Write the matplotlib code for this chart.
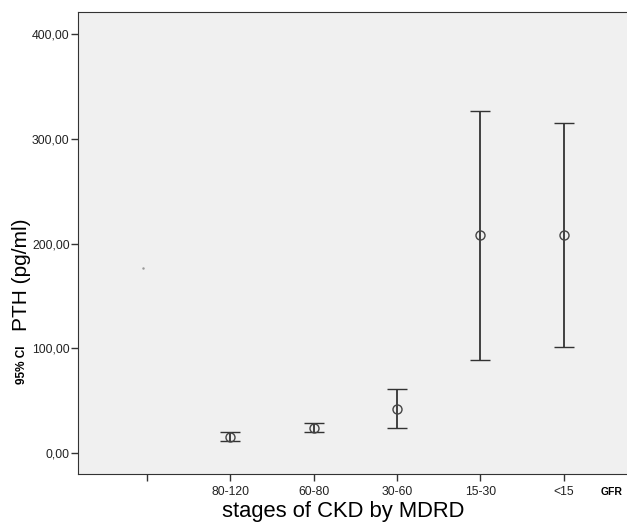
import matplotlib.pyplot as plt
import numpy as np

# stages of CKD (first category is empty in the source chart)
stages = ["", "80-120", "60-80", "30-60", "15-30", "<15"]
pth_mean = [np.nan, 15.5, 24.0, 42.0, 208.0, 208.0]
ci_low = [np.nan, 11.5, 20.0, 23.5, 89.0, 101.0]
ci_high = [np.nan, 20.0, 28.5, 61.5, 327.0, 315.0]
yticks = [0, 100, 200, 300, 400]

plt.rcParams["font.family"] = ["Liberation Sans", "DejaVu Sans"]

fig = plt.figure(figsize=(6.27, 5.27), dpi=100)
ax = fig.add_axes([78 / 627, 53 / 527, 560 / 627, 462 / 527])
ax.set_facecolor("#f0f0f0")

x = np.arange(len(stages))
mean = np.array(pth_mean)
lo = np.array(ci_low)
hi = np.array(ci_high)
ax.errorbar(x, mean, yerr=[mean - lo, hi - mean], fmt="o", mfc="none",
            mec="#444444", ms=6.5, mew=1.0, ecolor="#333333", elinewidth=1.3,
            capsize=7.5, capthick=1.6)
# tiny stray dot for the empty category
ax.plot(-0.05, 177, marker=".", ms=1.5, color="#999999")

ax.set_xlim(-0.828, 5.89)
ax.set_ylim(-20, 421.5)
ax.set_xticks(x)
ax.set_xticklabels(stages, fontsize=8.8, color="#222222")
ax.set_yticks(yticks)
ax.set_yticklabels([f"{v},00" for v in yticks], fontsize=8.8, color="#222222")
ax.tick_params(direction="out", length=5, width=1, color="#333333")
ax.tick_params(axis="y", pad=1)

for side in ["left", "bottom", "top"]:
    ax.spines[side].set_color("#333333")
ax.spines["right"].set_visible(False)

fig.text(22 / 627, 1 - 275 / 527, "PTH (pg/ml)", rotation=90, fontsize=15,
         ha="center", va="center")
fig.text(22 / 627, 1 - 365 / 527, "95% CI", rotation=90, fontsize=8.5,
         fontweight="bold", ha="center", va="center")
fig.text(343 / 627, 1 - 511 / 527, "stages of CKD by MDRD", fontsize=15.8,
         ha="center", va="center")
fig.text(612 / 627, 1 - 492 / 527, "GFR", fontsize=7.5, fontweight="bold",
         ha="center", va="center")

fig.savefig("out.png", dpi=100)
